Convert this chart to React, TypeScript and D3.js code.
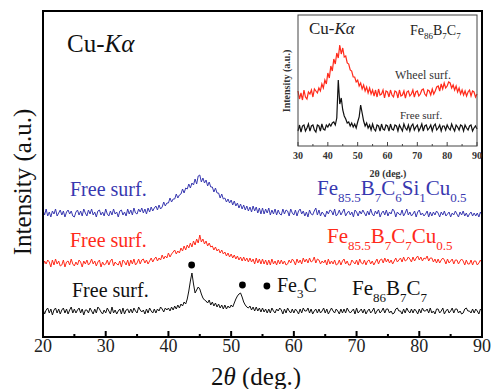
import React from 'react';
import * as d3 from 'd3';

const W = 491;
const H = 389;
const FONT = '"Liberation Serif", Tinos, "Times New Roman", "DejaVu Serif", serif';

const BLUE = '#3838b0';
const RED = '#ff2a1a';

// main panel: 2θ sampled every 0.25° from 20°, intensity (a.u.) above each trace's own baseline
const mainStart = 20;
const mainStep = 0.25;

const blueFree = [
  3, -2, 4, -3, 1, -4, 2, -1, 4, -3, 0, 3, -2, 2, -4, 1, 3, -1, 2, -3,
  -4, 1, 3, -2, 2, -3, 4, 0, -3, 3, -1, 4, -2, 1, -4, 2, 3, -2, 1, -3,
  4, -1, -3, 2, -2, 4, -1, 1, -4, 2, 3, -2, 1, -3, 4, -1, 3, -2, 5, 0,
  -1, 4, 1, 5, 0, 4, -1, 5, 1, 6, 2, 5, 7, 3, 8, 4, 6, 11, 7, 10,
  10, 15, 11, 14, 14, 19, 15, 18, 19, 24, 20, 25, 24, 29, 25, 30, 28, 34, 29, 37,
  38, 31, 35, 30, 33, 27, 31, 26, 26, 21, 25, 20, 20, 15, 19, 14, 15, 11, 14, 10,
  13, 8, 12, 7, 10, 5, 9, 4, 8, 3, 7, 2, 6, 1, 7, 2, 6, 0, 5, -1,
  5, -1, 4, 0, 5, -2, 3, -1, 4, -2, 3, -1, -2, 4, -1, 3, 2, -3, 4, 0,
  -2, 3, -3, 2, 4, -1, 2, -3, 1, -4, 3, -1, -2, 2, 5, -2, 3, -3, 1, -1,
  -4, 2, -1, 3, 2, -2, 4, -3, -1, 3, -2, 1, 4, -3, 0, 2, -2, 1, -4, 3,
  1, -3, 2, -1, 3, 0, -3, 2, -2, 4, -1, -3, 2, -1, 3, -4, 0, 2, -2, 3,
  -3, 1, -1, 4, 2, -4, 1, -1, -2, 3, -3, 0, 4, -2, 1, -3, -1, 2, -4, 1,
  3, -2, 0, -3, -1, 2, -4, 1, -3, 1, -2, 2, 0, -4, 1, -2, 2, -3, -1, 1,
  -4, 0, -2, 2, -1, -4, 1, -2, 2, -3, 0, -4, -1, 1, -3, 0, -3, 0, -4, 1,
  -2,
];

const redFree = [
  -3, 2, -1, 3, 1, -4, 3, -2, 4, -1, 2, -3, -2, 3, -4, 1, 2, -2, 4, -1,
  -3, 1, -2, 3, 1, -4, 2, -1, 3, -2, 0, 4, -1, 2, -3, 1, 3, -4, 1, -2,
  -1, 3, -2, 2, 4, -3, 1, -1, -2, 2, -4, 3, 1, -2, 3, -3, 3, -1, 4, -2,
  0, 4, -1, 3, 4, 0, 3, -1, 2, 5, 1, 4, 6, 2, 5, 3, 8, 4, 7, 5,
  10, 6, 9, 11, 13, 9, 12, 10, 15, 12, 17, 13, 18, 15, 20, 16, 22, 18, 24, 20,
  28, 21, 24, 19, 22, 17, 20, 16, 17, 13, 16, 12, 14, 10, 13, 9, 11, 7, 10, 6,
  9, 5, 8, 4, 7, 3, 6, 2, 6, 2, 5, 1, 5, 1, 4, -1, 5, 0, 4, -1,
  4, -1, 3, -2, 3, -2, 4, -1, 2, -2, 3, -1, 3, -1, 2, -2, -1, 3, 0, 4,
  2, -2, 4, 0, 3, -1, 5, 1, 4, 0, 5, 1, 2, 6, 0, 4, 3, -1, 2, 0,
  3, -2, 4, -1, 2, -1, 3, -2, -1, 3, -2, 2, 4, -1, 2, -2, -2, 3, 1, -1,
  3, -2, 4, 0, -1, 3, -2, 2, 3, -1, 2, -2, 1, 4, -1, 3, 4, 0, 5, 1,
  4, 0, 3, -1, 2, 5, 1, 3, 5, 1, 6, 2, 3, 6, 4, 1, 6, 2, 5, 7,
  3, 6, 2, 5, 4, 7, 2, 5, 5, 1, 4, 0, 4, 0, 3, 5, 3, -1, 4, 0,
  2, 4, -1, 3, 3, -1, 2, 4, 2, -2, 3, -1, -1, 3, -2, 2, 2, -2, 0, 3,
  0,
];

const blackFree = [
  2, -3, 1, 3, -2, 2, -4, 1, 3, -2, 2, -3, 1, 3, -2, 2, -3, 1, 4, -2,
  2, -2, 1, 3, -2, 2, -4, 1, 1, -2, 3, 0, -3, 2, -2, 4, 2, -1, -3, 1,
  -2, 3, 0, -3, 4, -2, 1, -3, 0, 2, -3, 3, -3, 1, 2, -2, 2, -2, 3, 0,
  -2, 4, 1, -1, 1, -3, 2, -2, 3, 0, -2, 2, -2, 2, 0, 4, 2, -1, 3, 1,
  3, 0, 4, 1, 5, 2, 6, 3, 7, 5, 9, 7, 12, 20, 30, 38, 27, 18, 21, 24,
  22, 17, 13, 11, 10, 8, 11, 6, 9, 5, 8, 4, 7, 3, 6, 2, 6, 2, 5, 3,
  6, 4, 8, 12, 15, 17, 18, 14, 9, 6, 4, 3, 5, 1, 4, 0, 4, 0, 3, -1,
  3, -1, 2, -2, 2, -2, 3, 0, -2, 2, 0, 3, 1, -3, 2, -2, 3, 0, -2, 2,
  -2, 2, 0, -3, 2, -2, 3, 0, 0, 3, -2, 2, -3, 0, 2, -2, 2, -2, 0, 3,
  -2, 2, -3, 0, 3, 0, -2, 2, 0, -3, 2, -2, 2, -2, 3, 0, -2, 0, 2, -3,
  3, -2, 0, 2, -2, 2, -3, 0, 2, -2, 0, 3, -3, 0, 2, -2, 0, 3, -2, 2,
  2, -2, 0, -3, -2, 2, 3, 0, 0, -3, 2, -2, 3, 0, -2, 2, -2, 2, 0, -3,
  2, -2, 3, 0, 0, 2, -2, 3, -2, 0, -3, 2, 2, -2, 0, 3, -3, 0, 2, -2,
  0, 3, -2, 2, 2, -2, 0, -3, -2, 2, 3, 0, 0, -2, 2, -2, 2, 0, -3, 2,
  0,
];

// vertical stacking of the three traces (blue, red, black)
const mainOffsets = [124, 74, 26];

// Fe3C markers
const fe3cAngles = [43.7, 51.8, 55.7];
const fe3cLevels = [72, 52, 51];

const mainMajorTicks = [20, 30, 40, 50, 60, 70, 80, 90];
const mainMinorTicks = [25, 35, 45, 55, 65, 75, 85];

// inset: Fe86B7C7, 2θ sampled every 0.5° from 30°
const insetStart = 30;
const insetStep = 0.5;

const insetWheel = [
  4, -4, 2, -5, 5, -2, -4, 3, 1, 5, -2, 6, 4, 2, 7, 4, 11, 7, 15, 11,
  22, 17, 29, 24, 36, 31, 42, 37, 50, 41, 47, 38, 39, 32, 31, 25, 24, 18, 18, 13,
  15, 9, 12, 6, 10, 4, 8, 2, 7, 1, 5, -1, 5, -2, 6, 0, 1, 5, -3, 4,
  3, -2, 5, 0, -2, 4, 3, -3, 5, -1, 0, 4, -3, 3, 4, -1, 1, 5, -2, 3,
  4, -1, 1, 5, 6, 1, -1, 5, 4, 0, 6, 1, 4, 8, 9, 4, 11, 6, 12, 7,
  9, 13, 12, 7, 10, 5, 9, 3, 7, 1, 5, 0, 4, -1, 3, 5, -1, 4, 3, -2,
  1,
];

const insetFree = [
  -3, 3, -4, 2, 3, -3, 0, 4, -3, 2, 3, -2, -4, 3, 2, -3, 4, -1, -2, 3,
  1, 4, 2, 5, 6, 3, 10, 48, 24, 30, 18, 12, 9, 5, 6, 2, 5, 1, 4, 0,
  6, 11, 23, 15, 7, 2, 5, 0, 3, -2, 4, -1, -3, 3, 2, -3, 4, -1, -2, 3,
  2, -3, 4, -1, -2, 3, 2, -3, 3, 0, -3, 4, 0, -2, 3, -3, 2, 4, -2, 1,
  3, -3, 0, 4, -3, 2, 3, -2, 0, 3, -3, 2, 4, -2, 0, 3, -3, 2, 2, -2,
  3, 0, -2, 4, 0, -3, 3, 1, -2, 3, 2, -3, 3, 0, -2, 2, 3, -3, 0, 2,
  -1,
];

const insetOffsets = [51, 18];
const insetMajorTicks = [30, 40, 50, 60, 70, 80, 90];
const insetMinorTicks = [35, 45, 55, 65, 75, 85];

type Part = { t: string; sub?: boolean };

const Chem = ({ x, y, parts, size, subSize, fill, shift }: { x: number; y: number; parts: Part[]; size: number; subSize: number; fill: string; shift: number }) => {
  let prevSub = false;
  return (
    <text x={x} y={y} fontSize={size} fill={fill} style={{ fontFamily: FONT }}>
      {parts.map((p, i) => {
        const dy = p.sub ? (prevSub ? 0 : shift) : prevSub ? -shift : 0;
        prevSub = !!p.sub;
        return (
          <tspan key={i} dy={dy} fontSize={p.sub ? subSize : size}>
            {p.t}
          </tspan>
        );
      })}
    </text>
  );
};

const App = () => {
  // main scales
  const x = d3.scaleLinear().domain([20, 90]).range([43, 482]);
  const y = d3.scaleLinear().domain([0, 326]).range([337, 11]);

  const mainLine = (off: number) =>
    d3
      .line<number>()
      .x((_, i) => x(mainStart + i * mainStep))
      .y((d) => y(d + off));

  // inset scales
  const ix = d3.scaleLinear().domain([30, 90]).range([298, 477]);
  const iy = d3.scaleLinear().domain([0, 131]).range([146, 15]);
  const insetLine = (off: number) =>
    d3
      .line<number>()
      .x((_, i) => ix(insetStart + i * insetStep))
      .y((d) => iy(d + off));

  const mainSeries = [
    { data: blueFree, color: BLUE },
    { data: redFree, color: RED },
    { data: blackFree, color: '#111' },
  ];

  const txt = { fontFamily: FONT };

  return (
    <svg width={W} height={H} style={{ position: 'fixed', left: 0, top: 0, background: '#fff', fontFamily: FONT }}>
      {/* traces */}
      {mainSeries.map((s, k) => (
        <path key={k} d={mainLine(mainOffsets[k])(s.data) || ''} fill="none" stroke={s.color} strokeWidth={1} />
      ))}

      {/* Fe3C dots */}
      {fe3cAngles.map((a, i) => (
        <circle key={i} cx={x(a)} cy={y(fe3cLevels[i])} r={3.4} fill="#000" />
      ))}
      <Chem x={277} y={292} size={20} subSize={13} fill="#111" shift={6}
        parts={[{ t: 'Fe' }, { t: '3', sub: true }, { t: 'C' }]} />

      {/* labels */}
      <text x={70} y={196} fontSize={20} fill={BLUE} style={txt}>Free surf.</text>
      <text x={70} y={247} fontSize={20} fill={RED} style={txt}>Free surf.</text>
      <text x={72} y={297} fontSize={20} fill="#111" style={txt}>Free surf.</text>

      <Chem x={317} y={195} size={21} subSize={13} fill={BLUE} shift={7}
        parts={[{ t: 'Fe' }, { t: '85.5', sub: true }, { t: 'B' }, { t: '7', sub: true }, { t: 'C' }, { t: '6', sub: true }, { t: 'Si' }, { t: '1', sub: true }, { t: 'Cu' }, { t: '0.5', sub: true }]} />
      <Chem x={327} y={243} size={21} subSize={13} fill={RED} shift={7}
        parts={[{ t: 'Fe' }, { t: '85.5', sub: true }, { t: 'B' }, { t: '7', sub: true }, { t: 'C' }, { t: '7', sub: true }, { t: 'Cu' }, { t: '0.5', sub: true }]} />
      <Chem x={352} y={295} size={21} subSize={13} fill="#111" shift={7}
        parts={[{ t: 'Fe' }, { t: '86', sub: true }, { t: 'B' }, { t: '7', sub: true }, { t: 'C' }, { t: '7', sub: true }]} />

      <text x={67} y={52} fontSize={25} fill="#111" style={txt}>
        Cu-<tspan fontStyle="italic">Kα</tspan>
      </text>

      {/* main frame and ticks */}
      <rect x={43} y={11} width={439} height={326} fill="none" stroke="#000" strokeWidth={2} />
      {mainMajorTicks.map((t) => (
        <line key={'M' + t} x1={x(t)} x2={x(t)} y1={337} y2={331} stroke="#000" strokeWidth={2} />
      ))}
      {mainMinorTicks.map((t) => (
        <line key={'m' + t} x1={x(t)} x2={x(t)} y1={337} y2={334} stroke="#000" strokeWidth={2} />
      ))}
      {mainMajorTicks.map((t) => (
        <text key={'L' + t} x={x(t)} y={352} fontSize={18} textAnchor="middle" fill="#222" style={txt}>
          {t}
        </text>
      ))}
      <text x={256} y={385} fontSize={25} textAnchor="middle" fill="#111" style={txt}>
        2<tspan fontStyle="italic">θ</tspan> (deg.)
      </text>
      <text transform="translate(31,182) rotate(-90)" fontSize={25} textAnchor="middle" fill="#111" style={txt}>
        Intensity (a.u.)
      </text>

      {/* inset */}
      <rect x={298} y={15} width={179} height={131} fill="#fff" stroke="none" />
      <path d={insetLine(insetOffsets[0])(insetWheel) || ''} fill="none" stroke={RED} strokeWidth={1.2} />
      <path d={insetLine(insetOffsets[1])(insetFree) || ''} fill="none" stroke="#111" strokeWidth={1.2} />
      <rect x={298} y={15} width={179} height={131} fill="none" stroke="#444" strokeWidth={1} />
      {insetMajorTicks.map((t) => (
        <line key={'iM' + t} x1={ix(t)} x2={ix(t)} y1={146} y2={142} stroke="#444" strokeWidth={1} />
      ))}
      {insetMinorTicks.map((t) => (
        <line key={'im' + t} x1={ix(t)} x2={ix(t)} y1={146} y2={144} stroke="#444" strokeWidth={1} />
      ))}
      {insetMajorTicks.map((t) => (
        <text key={'iL' + t} x={ix(t)} y={159} fontSize={10} fontWeight="bold" textAnchor="middle" fill="#333" style={txt}>
          {t}
        </text>
      ))}
      <text x={388} y={177} fontSize={10} fontWeight="bold" textAnchor="middle" fill="#333" style={txt}>
        2θ (deg.)
      </text>
      <text transform="translate(290,81) rotate(-90)" fontSize={10} fontWeight="bold" textAnchor="middle" fill="#333" style={txt}>
        Intensity (a.u.)
      </text>
      <text x={309} y={34} fontSize={17} fill="#222" style={txt}>
        Cu-<tspan fontStyle="italic">Kα</tspan>
      </text>
      <Chem x={410} y={35} size={14} subSize={9} fill="#222" shift={4}
        parts={[{ t: 'Fe' }, { t: '86', sub: true }, { t: 'B' }, { t: '7', sub: true }, { t: 'C' }, { t: '7', sub: true }]} />
      <text x={395} y={79} fontSize={12} fill="#333" style={txt}>Wheel surf.</text>
      <text x={400} y={119} fontSize={11} fill="#333" style={txt}>Free surf.</text>
    </svg>
  );
};

export default App;
